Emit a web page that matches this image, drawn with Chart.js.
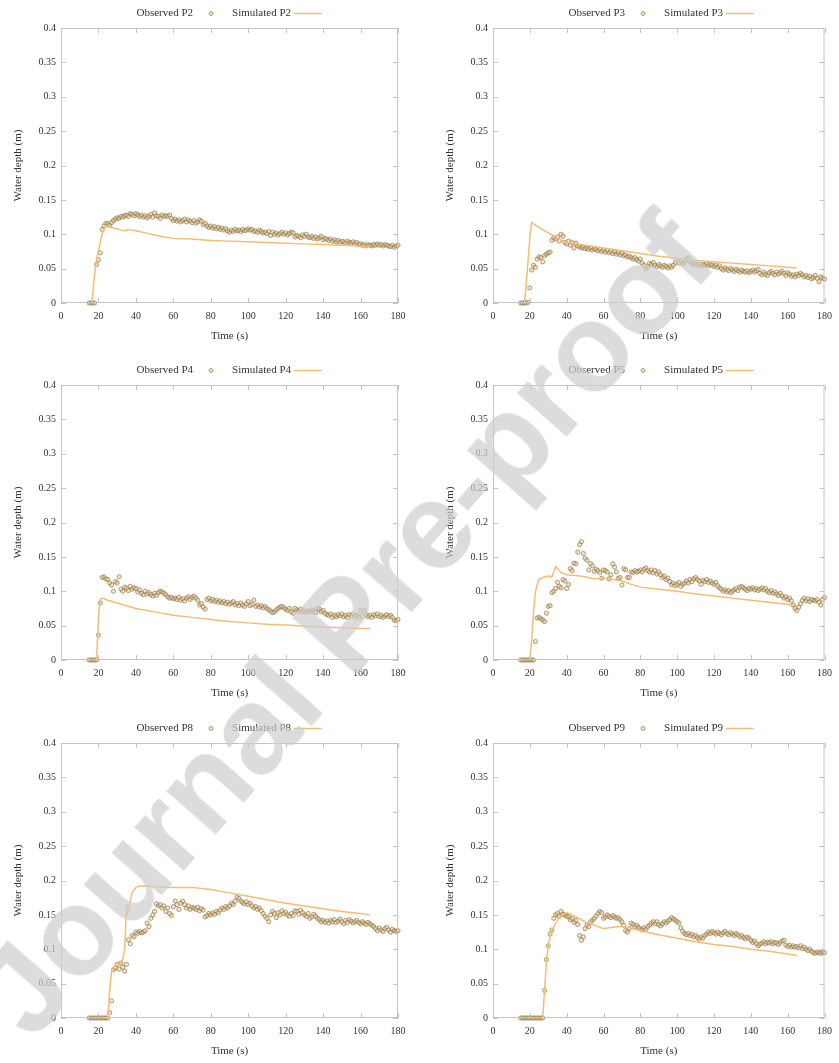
<!DOCTYPE html>
<html>
<head>
<meta charset="utf-8">
<script src="https://cdn.jsdelivr.net/npm/chart.js@4.4.0/dist/chart.umd.min.js"></script>
<style>
  body { margin: 0; width: 839px; height: 1063px; overflow: hidden; background: #fff; position: relative; }
  .panel { position: absolute; height: 348px; }
  #watermark {
    position: absolute; left: 344px; top: 624px;
    transform: translate(-50%, -50%) rotate(-48.6deg);
    font: bold 124px "Liberation Sans", Arial, sans-serif;
    color: rgba(205, 205, 205, 0.7); white-space: nowrap; line-height: 1;
    pointer-events: none;
  }
</style>
</head>
<body>
<div class="panel" style="left:0;top:0;width:420px"><canvas id="cP2" width="420" height="348"></canvas></div>
<div class="panel" style="left:420px;top:0;width:419px"><canvas id="cP3" width="419" height="348"></canvas></div>
<div class="panel" style="left:0;top:357px;width:420px"><canvas id="cP4" width="420" height="348"></canvas></div>
<div class="panel" style="left:420px;top:357px;width:419px"><canvas id="cP5" width="419" height="348"></canvas></div>
<div class="panel" style="left:0;top:715px;width:420px"><canvas id="cP8" width="420" height="348"></canvas></div>
<div class="panel" style="left:420px;top:715px;width:419px"><canvas id="cP9" width="419" height="348"></canvas></div>
<div id="watermark">Journal Pre-proof</div>

<script>
// axes
const xTicks = [0, 20, 40, 60, 80, 100, 120, 140, 160, 180];
const yTicks = [0, 0.05, 0.1, 0.15, 0.2, 0.25, 0.3, 0.35, 0.4];
const yTickLabels = ['0', '0.05', '0.1', '0.15', '0.2', '0.25', '0.3', '0.35', '0.4'];

// observed gauges: one sample per second, first sample at t = 15 s
const obsStart = 15;

const obsP2 = [
  0, 0, 0, 0, 0.056, 0.063, 0.073, 0.107, 0.112, 0.116,
  0.115, 0.113, 0.117, 0.12, 0.122, 0.124, 0.123, 0.126, 0.125, 0.127,
  0.128, 0.126, 0.13, 0.129, 0.127, 0.13, 0.128, 0.126, 0.128, 0.125,
  0.127, 0.124, 0.126, 0.129, 0.125, 0.131, 0.127, 0.126, 0.123, 0.128,
  0.126, 0.127, 0.126, 0.128, 0.123, 0.12, 0.122, 0.119, 0.121, 0.118,
  0.12, 0.122, 0.118, 0.121, 0.119, 0.117, 0.12, 0.116, 0.118, 0.121,
  0.119, 0.114, 0.116, 0.112, 0.11, 0.112, 0.109, 0.111, 0.108, 0.11,
  0.107, 0.109, 0.106, 0.108, 0.105, 0.103, 0.106, 0.104, 0.107, 0.105,
  0.106, 0.104, 0.107, 0.105, 0.106, 0.108, 0.106, 0.107, 0.104, 0.105,
  0.103, 0.106, 0.104, 0.102, 0.103, 0.101, 0.104, 0.098, 0.103, 0.1,
  0.102, 0.099, 0.101, 0.103, 0.1, 0.102, 0.099, 0.101, 0.103, 0.102,
  0.096, 0.098, 0.097, 0.095, 0.099, 0.097, 0.1, 0.096, 0.095, 0.097,
  0.094, 0.096, 0.093, 0.095, 0.097, 0.092, 0.094, 0.093, 0.091, 0.093,
  0.09, 0.092, 0.089, 0.091, 0.088, 0.09, 0.089, 0.087, 0.09, 0.088,
  0.087, 0.089, 0.086, 0.088, 0.085, 0.086, 0.084, 0.085, 0.083, 0.085,
  0.084, 0.083, 0.085, 0.084, 0.086, 0.084, 0.085, 0.083, 0.085, 0.084,
  0.083, 0.082, 0.084, 0.081, 0.083, 0.084
];
const simTP2 = [0, 16.5, 17.5, 18.5, 19.5, 20.5, 21.5, 22.5, 24, 26, 28, 30, 32, 34, 36, 38, 40, 45, 50, 55, 60, 70, 80, 90, 100, 110, 120, 130, 140, 150, 160, 165];
const simP2 = [0, 0, 0.03, 0.055, 0.07, 0.082, 0.095, 0.105, 0.112, 0.111, 0.109, 0.108, 0.106, 0.105, 0.107, 0.106, 0.105, 0.102, 0.099, 0.096, 0.094, 0.093, 0.091, 0.09, 0.089, 0.088, 0.087, 0.086, 0.085, 0.084, 0.083, 0.082];

const obsP3 = [
  0, 0, 0, 0, 0.001, 0.022, 0.048, 0.055, 0.052, 0.064,
  0.067, 0.066, 0.06, 0.069, 0.071, 0.073, 0.074, 0.091, 0.095, 0.093,
  0.096, 0.09, 0.1, 0.097, 0.088, 0.086, 0.09, 0.084, 0.088, 0.08,
  0.087, 0.083, 0.082, 0.08, 0.081, 0.079, 0.08, 0.078, 0.08, 0.077,
  0.079, 0.078, 0.076, 0.078, 0.075, 0.077, 0.074, 0.076, 0.073, 0.075,
  0.072, 0.074, 0.071, 0.073, 0.07, 0.072, 0.069, 0.07, 0.067, 0.068,
  0.066, 0.064, 0.066, 0.063, 0.061, 0.064, 0.058, 0.055, 0.05, 0.053,
  0.058, 0.056, 0.059, 0.055, 0.053, 0.056, 0.054, 0.052, 0.055, 0.053,
  0.051, 0.054, 0.052, 0.055, 0.059, 0.062, 0.058, 0.061, 0.057, 0.06,
  0.063, 0.066, 0.06, 0.058, 0.056, 0.058, 0.055, 0.057, 0.054, 0.056,
  0.055, 0.057, 0.054, 0.056, 0.055, 0.053, 0.055, 0.052, 0.054, 0.05,
  0.048, 0.051, 0.049, 0.047, 0.05, 0.048, 0.046, 0.049, 0.047, 0.045,
  0.048, 0.046, 0.045, 0.047, 0.044, 0.046, 0.048, 0.045, 0.047, 0.049,
  0.043, 0.041, 0.045, 0.042, 0.04, 0.044, 0.046, 0.043, 0.041, 0.045,
  0.042, 0.044, 0.046, 0.043, 0.04, 0.044, 0.042, 0.039, 0.041, 0.038,
  0.042, 0.04, 0.043, 0.041, 0.038, 0.04, 0.037, 0.039, 0.035, 0.037,
  0.04, 0.036, 0.031, 0.038, 0.036, 0.035
];
const simTP3 = [0, 17, 18, 19, 20, 21, 22, 25, 30, 32, 35, 40, 50, 60, 70, 80, 90, 100, 110, 120, 130, 140, 150, 160, 165];
const simP3 = [0, 0, 0.025, 0.06, 0.095, 0.117, 0.115, 0.11, 0.102, 0.099, 0.094, 0.088, 0.084, 0.08, 0.076, 0.072, 0.068, 0.065, 0.062, 0.06, 0.058, 0.056, 0.054, 0.052, 0.051];

const obsP4 = [
  0, 0, 0, 0, 0, 0.036, 0.083, 0.12, 0.121, 0.118,
  0.117, 0.112, 0.109, 0.1, 0.114, 0.112, 0.121, 0.103, 0.1, 0.106,
  0.104, 0.101, 0.107, 0.103, 0.105, 0.104, 0.099, 0.102, 0.097, 0.095,
  0.1, 0.096, 0.098, 0.095, 0.093, 0.097, 0.094, 0.098, 0.1, 0.099,
  0.097, 0.095, 0.092, 0.09, 0.091, 0.089, 0.09, 0.088, 0.091, 0.087,
  0.089, 0.086, 0.09, 0.092, 0.088, 0.091, 0.093, 0.09, 0.087, 0.08,
  0.082, 0.077, 0.074, 0.088, 0.09, 0.086, 0.088, 0.085, 0.087, 0.084,
  0.086, 0.083, 0.085, 0.082, 0.084, 0.081, 0.083, 0.085, 0.08, 0.082,
  0.079, 0.083, 0.08, 0.078, 0.082, 0.085, 0.079, 0.081, 0.087, 0.078,
  0.08, 0.077, 0.079, 0.076, 0.078, 0.075, 0.073, 0.071, 0.069, 0.07,
  0.073, 0.075, 0.077, 0.078, 0.076, 0.074, 0.072, 0.075, 0.07, 0.068,
  0.075, 0.073, 0.071, 0.074, 0.07, 0.072, 0.069, 0.071, 0.07, 0.073,
  0.071, 0.069, 0.075, 0.074, 0.07, 0.072, 0.068, 0.066, 0.065, 0.067,
  0.062, 0.065, 0.063, 0.066, 0.064, 0.067, 0.063, 0.065, 0.062, 0.066,
  0.064, 0.067, 0.063, 0.065, 0.062, 0.072, 0.064, 0.072, 0.066, 0.063,
  0.065, 0.062, 0.066, 0.064, 0.067, 0.063, 0.065, 0.062, 0.064, 0.066,
  0.063, 0.065, 0.062, 0.058, 0.057, 0.059
];
const simTP4 = [0, 19, 19.5, 20, 20.5, 21, 22, 25, 30, 35, 40, 50, 60, 70, 80, 90, 100, 110, 120, 130, 140, 150, 160, 165];
const simP4 = [0, 0, 0.03, 0.06, 0.08, 0.088, 0.09, 0.087, 0.083, 0.079, 0.075, 0.07, 0.065, 0.062, 0.059, 0.056, 0.054, 0.052, 0.051, 0.049, 0.048, 0.047, 0.046, 0.046];

const obsP5 = [
  0, 0, 0, 0, 0, 0, 0, 0, 0.027, 0.061,
  0.062, 0.06, 0.058, 0.056, 0.068, 0.078, 0.079, 0.098, 0.1, 0.104,
  0.113, 0.107, 0.105, 0.117, 0.115, 0.104, 0.11, 0.133, 0.13, 0.141,
  0.14, 0.157, 0.168, 0.172, 0.155, 0.148, 0.145, 0.131, 0.14, 0.137,
  0.129, 0.132, 0.13, 0.127, 0.119, 0.131, 0.13, 0.128, 0.118, 0.124,
  0.14, 0.135, 0.128, 0.119, 0.12, 0.109, 0.133, 0.131, 0.12, 0.12,
  0.128, 0.127, 0.13, 0.128, 0.129, 0.131, 0.128, 0.132, 0.134, 0.13,
  0.128, 0.131, 0.127, 0.13, 0.125, 0.128, 0.124, 0.12, 0.122, 0.117,
  0.119, 0.114, 0.11, 0.112, 0.108, 0.11, 0.113, 0.107, 0.11, 0.112,
  0.115, 0.112, 0.117, 0.114, 0.118, 0.12, 0.117, 0.115, 0.11, 0.116,
  0.114, 0.117, 0.113, 0.115, 0.112, 0.11, 0.113, 0.108, 0.105, 0.103,
  0.1, 0.102, 0.099, 0.101, 0.098, 0.1, 0.102, 0.104, 0.101, 0.106,
  0.107, 0.105, 0.103, 0.101, 0.104, 0.103, 0.105, 0.102, 0.104, 0.101,
  0.103, 0.105, 0.102, 0.104, 0.1, 0.098, 0.101, 0.097, 0.099, 0.096,
  0.094, 0.097, 0.093, 0.09, 0.092, 0.088, 0.09, 0.086, 0.08, 0.075,
  0.072, 0.077, 0.082, 0.087, 0.09, 0.086, 0.089, 0.085, 0.088, 0.087,
  0.086, 0.088, 0.084, 0.08, 0.088, 0.091
];
const simTP5 = [0, 20, 21, 22, 23, 24, 25, 27, 30, 32, 33, 34, 35, 37, 40, 45, 50, 55, 60, 65, 70, 75, 80, 90, 100, 110, 120, 130, 140, 150, 160, 165];
const simP5 = [0, 0, 0.03, 0.07, 0.098, 0.11, 0.117, 0.12, 0.122, 0.121, 0.128, 0.136, 0.133, 0.127, 0.124, 0.123, 0.121, 0.118, 0.119, 0.117, 0.115, 0.11, 0.106, 0.103, 0.1, 0.096, 0.093, 0.09, 0.087, 0.084, 0.081, 0.079];

const obsP8 = [
  0, 0, 0, 0, 0, 0, 0, 0, 0, 0,
  0, 0.008, 0.025, 0.07, 0.073, 0.078, 0.071, 0.08, 0.074, 0.068,
  0.078, 0.114, 0.108, 0.12, 0.118, 0.125, 0.123, 0.126, 0.124, 0.125,
  0.127, 0.138, 0.133, 0.145, 0.15, 0.155, 0.166, 0.163, 0.165, 0.16,
  0.163, 0.155, 0.16, 0.152, 0.149, 0.162, 0.17, 0.165, 0.158, 0.167,
  0.17, 0.165, 0.16, 0.163, 0.158, 0.161, 0.16, 0.158, 0.161, 0.156,
  0.159, 0.157, 0.147, 0.149, 0.152, 0.15, 0.153, 0.151, 0.155, 0.153,
  0.157, 0.16, 0.158, 0.162, 0.16, 0.163, 0.167, 0.165, 0.17, 0.176,
  0.174, 0.17, 0.168, 0.166, 0.169, 0.165, 0.167, 0.163, 0.16, 0.162,
  0.158, 0.16, 0.156, 0.152, 0.148, 0.145, 0.14, 0.15, 0.155, 0.152,
  0.146, 0.153, 0.15, 0.156, 0.152, 0.154, 0.15, 0.148, 0.152, 0.149,
  0.156, 0.155, 0.151, 0.157, 0.153, 0.15, 0.148, 0.152, 0.145, 0.147,
  0.151, 0.148, 0.145, 0.143, 0.14, 0.142, 0.139, 0.141, 0.138, 0.142,
  0.14, 0.143, 0.139, 0.141, 0.144, 0.14, 0.137, 0.142, 0.139, 0.143,
  0.141, 0.138, 0.14, 0.142, 0.139, 0.137, 0.14, 0.138, 0.136, 0.139,
  0.137, 0.135, 0.133, 0.13, 0.127, 0.131, 0.128, 0.126, 0.13, 0.132,
  0.128, 0.125, 0.129, 0.127, 0.126, 0.127
];
const simTP8 = [0, 25, 26, 27, 28, 30, 32, 33, 34, 34.5, 35, 35.5, 36, 37, 38, 40, 42, 45, 50, 60, 70, 80, 90, 100, 110, 120, 130, 140, 150, 160, 165];
const simP8 = [0, 0, 0.04, 0.068, 0.074, 0.077, 0.079, 0.085, 0.1, 0.13, 0.166, 0.152, 0.155, 0.17, 0.182, 0.19, 0.192, 0.192, 0.191, 0.19, 0.19, 0.187, 0.182, 0.177, 0.172, 0.167, 0.163, 0.159, 0.155, 0.152, 0.15];

const obsP9 = [
  0, 0, 0, 0, 0, 0, 0, 0, 0, 0,
  0, 0, 0, 0.04, 0.085, 0.105, 0.122, 0.128, 0.145, 0.15,
  0.152, 0.148, 0.155, 0.151, 0.15, 0.148, 0.147, 0.143, 0.145, 0.139,
  0.142, 0.136, 0.12, 0.113, 0.118, 0.13, 0.135, 0.133, 0.14, 0.142,
  0.145, 0.148, 0.152, 0.155, 0.153, 0.145, 0.147, 0.15, 0.148, 0.146,
  0.149, 0.147, 0.145, 0.146, 0.143, 0.14, 0.135, 0.127, 0.125, 0.13,
  0.138, 0.136, 0.133, 0.135, 0.132, 0.13, 0.128, 0.131, 0.129, 0.133,
  0.135, 0.138, 0.14, 0.137, 0.14, 0.136, 0.134, 0.137, 0.14, 0.138,
  0.141, 0.143, 0.146, 0.144, 0.142, 0.14, 0.138, 0.131, 0.126, 0.123,
  0.121, 0.123, 0.12, 0.122, 0.118, 0.12, 0.117, 0.115, 0.118, 0.116,
  0.12, 0.122, 0.125, 0.123, 0.126, 0.124, 0.122, 0.125, 0.123, 0.121,
  0.124, 0.126, 0.123, 0.121, 0.124, 0.122, 0.12, 0.123, 0.121, 0.118,
  0.12, 0.117, 0.115, 0.118, 0.116, 0.113, 0.11, 0.112, 0.108, 0.105,
  0.107, 0.109, 0.111, 0.108, 0.11, 0.109, 0.111, 0.108, 0.11, 0.109,
  0.107, 0.11, 0.112, 0.113, 0.106, 0.104, 0.106, 0.103, 0.105, 0.103,
  0.104, 0.102, 0.105, 0.101, 0.103, 0.1, 0.098, 0.1, 0.097, 0.095,
  0.094, 0.096, 0.095, 0.094, 0.096, 0.095
];
const simTP9 = [0, 27, 28, 29, 30, 31, 32, 34, 36, 38, 40, 42, 45, 50, 55, 60, 65, 70, 75, 80, 90, 100, 110, 120, 130, 140, 150, 160, 165];
const simP9 = [0, 0, 0.04, 0.082, 0.105, 0.118, 0.127, 0.138, 0.146, 0.151, 0.153, 0.151, 0.147, 0.14, 0.135, 0.13, 0.132, 0.133, 0.13, 0.127, 0.121, 0.116, 0.111, 0.107, 0.104, 0.1, 0.097, 0.093, 0.091];

const panels = [
  { name: 'P2', obs: obsP2, simT: simTP2, sim: simP2, left: 61 },
  { name: 'P3', obs: obsP3, simT: simTP3, sim: simP3, left: 73 },
  { name: 'P4', obs: obsP4, simT: simTP4, sim: simP4, left: 61 },
  { name: 'P5', obs: obsP5, simT: simTP5, sim: simP5, left: 73 },
  { name: 'P8', obs: obsP8, simT: simTP8, sim: simP8, left: 61 },
  { name: 'P9', obs: obsP9, simT: simTP9, sim: simP9, left: 73 }
];

const SIM_COLOR = '#f4bd72';
const OBS_EDGE = 'rgba(135, 115, 80, 0.85)';
const OBS_FILL = 'rgba(240, 195, 115, 0.45)';
const FRAME = '#c4c4c4';
const TEXT = '#333';
const SERIF = '"Liberation Serif", "DejaVu Serif", serif';

// gnuplot-like frame with inward ticks on all four sides, plus the key above the plot
const gnuFrame = {
    id: 'gnuFrame',
    afterDraw(chart, args, opts) {
        const { ctx, chartArea: a, scales } = chart;
        ctx.save();
        ctx.strokeStyle = FRAME;
        ctx.lineWidth = 1;
        ctx.strokeRect(a.left + 0.5, a.top + 0.5, a.right - a.left - 1, a.bottom - a.top - 1);
        ctx.beginPath();
        xTicks.forEach(v => {
            const x = Math.round(scales.x.getPixelForValue(v)) + 0.5;
            ctx.moveTo(x, a.bottom); ctx.lineTo(x, a.bottom - 5);
            ctx.moveTo(x, a.top); ctx.lineTo(x, a.top + 5);
        });
        yTicks.forEach(v => {
            const y = Math.round(scales.y.getPixelForValue(v)) + 0.5;
            ctx.moveTo(a.left, y); ctx.lineTo(a.left + 5, y);
            ctx.moveTo(a.right, y); ctx.lineTo(a.right - 5, y);
        });
        ctx.stroke();

        // key
        const ky = a.top - 14.5;
        ctx.font = '11px ' + SERIF;
        ctx.fillStyle = TEXT;
        ctx.textAlign = 'right';
        ctx.textBaseline = 'middle';
        ctx.fillText('Observed ' + opts.name, a.left + 132, ky);
        ctx.fillText('Simulated ' + opts.name, a.left + 230, ky);
        ctx.beginPath();
        ctx.arc(a.left + 150, ky, 2, 0, Math.PI * 2);
        ctx.fillStyle = OBS_FILL;
        ctx.fill();
        ctx.strokeStyle = OBS_EDGE;
        ctx.lineWidth = 0.8;
        ctx.stroke();
        ctx.beginPath();
        ctx.moveTo(a.left + 233, ky);
        ctx.lineTo(a.left + 261, ky);
        ctx.strokeStyle = SIM_COLOR;
        ctx.lineWidth = 1.5;
        ctx.stroke();
        ctx.restore();
    }
};

panels.forEach(p => {
    const ctx = document.getElementById('c' + p.name).getContext('2d');
    const width = ctx.canvas.width;
    const rightPad = width - p.left - 337;

    new Chart(ctx, {
        type: 'scatter',
        data: {
            datasets: [
                {
                    label: 'Simulated ' + p.name,
                    data: p.simT.map((t, i) => ({ x: t, y: p.sim[i] })),
                    showLine: true,
                    pointRadius: 0,
                    borderColor: SIM_COLOR,
                    borderWidth: 1.5,
                    tension: 0,
                    order: 0
                },
                {
                    label: 'Observed ' + p.name,
                    data: p.obs.map((v, i) => ({ x: obsStart + i, y: v })),
                    showLine: false,
                    pointStyle: 'circle',
                    pointRadius: 2.1,
                    borderWidth: 0.8,
                    borderColor: OBS_EDGE,
                    backgroundColor: OBS_FILL,
                    clip: false,
                    order: 1
                }
            ]
        },
        options: {
            responsive: false,
            animation: false,
            events: [],
            layout: { padding: { top: 28, right: rightPad, left: 0, bottom: 0 } },
            plugins: {
                legend: { display: false },
                tooltip: { enabled: false },
                gnuFrame: { name: p.name }
            },
            scales: {
                x: {
                    type: 'linear',
                    min: 0,
                    max: 180,
                    afterBuildTicks: s => { s.ticks = xTicks.map(v => ({ value: v })); },
                    afterFit: s => { s.height = 45; },
                    grid: { display: false, drawTicks: false },
                    border: { display: false },
                    ticks: { padding: 7, color: TEXT, font: { family: SERIF, size: 10 } },
                    title: {
                        display: true,
                        text: 'Time (s)',
                        color: TEXT,
                        font: { family: SERIF, size: 11 },
                        padding: { top: 0, bottom: 5 }
                    }
                },
                y: {
                    type: 'linear',
                    min: 0,
                    max: 0.4,
                    afterBuildTicks: s => { s.ticks = yTicks.map(v => ({ value: v })); },
                    afterFit: s => { s.width = p.left; },
                    grid: { display: false, drawTicks: false },
                    border: { display: false },
                    ticks: {
                        padding: 5,
                        color: TEXT,
                        font: { family: SERIF, size: 10 },
                        callback: (v, i) => yTickLabels[i]
                    },
                    title: {
                        display: true,
                        text: 'Water depth (m)',
                        color: TEXT,
                        font: { family: SERIF, size: 11 },
                        padding: { top: p.left - 49, bottom: 0 }
                    }
                }
            }
        },
        plugins: [gnuFrame]
    });
});
</script>
</body>
</html>
